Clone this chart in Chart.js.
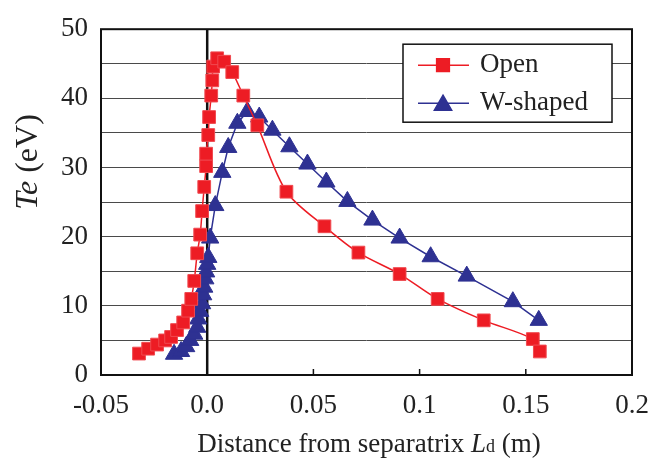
<!DOCTYPE html>
<html>
<head>
<meta charset="utf-8">
<script src="https://cdn.jsdelivr.net/npm/chart.js@4.4.1/dist/chart.umd.min.js"></script>
<style>
  html, body { margin: 0; padding: 0; background: #fff; }
  #wrap { width: 667px; height: 463px; }
</style>
</head>
<body>
<div id="wrap"><canvas id="chart" width="667" height="463"></canvas></div>
<script>
// Te profile vs distance from separatrix
const openX = [-0.0321, -0.0278, -0.0236, -0.0198, -0.0170, -0.0142, -0.0113, -0.0090, -0.0075, -0.0061,
               -0.0047, -0.0033, -0.0024, -0.0014, -0.0005, -0.0005, 0.0005, 0.0009, 0.0019, 0.0024,
               0.0028, 0.0047, 0.0080, 0.0118, 0.0170, 0.0236, 0.0373, 0.0552, 0.0712, 0.0906,
               0.1085, 0.1302, 0.1533, 0.1566];
const openY = [3.1, 3.8, 4.4, 5.0, 5.5, 6.5, 7.6, 9.3, 11.0, 13.6,
               17.6, 20.3, 23.7, 27.2, 30.2, 32.0, 34.7, 37.3, 40.4, 42.6,
               44.6, 45.8, 45.3, 43.8, 40.4, 36.1, 26.5, 21.5, 17.7, 14.6,
               11.0, 7.9, 5.2, 3.4];

const wX = [-0.0156, -0.0123, -0.0099, -0.0080, -0.0061, -0.0047, -0.0042, -0.0033, -0.0024, -0.0019,
            -0.0014, -0.0009, -0.0005, 0.0000, 0.0005, 0.0014, 0.0038, 0.0071, 0.0099, 0.0142,
            0.0189, 0.0245, 0.0307, 0.0387, 0.0472, 0.0561, 0.0660, 0.0778, 0.0906, 0.1052,
            0.1222, 0.1439, 0.1561];
const wY = [3.0, 3.4, 4.1, 5.0, 5.9, 6.9, 8.1, 9.2, 10.3, 11.6,
            12.7, 13.9, 14.9, 16.0, 17.0, 19.8, 24.5, 29.3, 32.9, 36.4,
            38.1, 37.3, 35.4, 33.0, 30.5, 27.9, 25.1, 22.4, 19.8, 17.1,
            14.3, 10.6, 7.9];

const xTicks = [-0.05, 0.0, 0.05, 0.1, 0.15, 0.2];
const xTickLabels = ['-0.05', '0.0', '0.05', '0.1', '0.15', '0.2'];
const yTicks = [0, 10, 20, 30, 40, 50];

const seriesNames = ['Open', 'W-shaped'];

const RED = '#ed1c24';
const BLUE = '#2e3192';
const FONT = "'Liberation Serif', 'Times New Roman', serif";

function toPoints(xs, ys) {
    return xs.map((x, i) => ({ x: x, y: ys[i] }));
}

// frame, zero line and inward ticks on the x axis
const framePlugin = {
    id: 'frame',
    beforeDatasetsDraw(chart) {
        const { ctx, chartArea: a, scales } = chart;
        ctx.save();
        ctx.strokeStyle = '#111';
        // thick line at x = 0
        const x0 = scales.x.getPixelForValue(0);
        ctx.lineWidth = 2.5;
        ctx.beginPath();
        ctx.moveTo(x0, a.top);
        ctx.lineTo(x0, a.bottom);
        ctx.stroke();
        // small ticks pointing into the plot
        ctx.lineWidth = 1.5;
        xTicks.forEach(v => {
            const px = scales.x.getPixelForValue(v);
            ctx.beginPath();
            ctx.moveTo(px, a.bottom);
            ctx.lineTo(px, a.bottom - 6);
            ctx.stroke();
        });
        ctx.lineWidth = 2;
        ctx.strokeRect(a.left, a.top, a.right - a.left, a.bottom - a.top);
        ctx.restore();
    }
};

// legend box and axis titles
const labelsPlugin = {
    id: 'labels',
    afterDraw(chart) {
        const { ctx, chartArea: a } = chart;
        const H = Chart.helpers;
        ctx.save();

        // legend
        const lx = a.left + 302, ly = a.top + 15, lw = 209, lh = 78;
        ctx.fillStyle = '#fff';
        ctx.fillRect(lx, ly, lw, lh);
        ctx.strokeStyle = '#111';
        ctx.lineWidth = 1.5;
        ctx.strokeRect(lx, ly, lw, lh);

        const entries = [
            { name: seriesNames[0], color: RED, style: 'rect', radius: 9 },
            { name: seriesNames[1], color: BLUE, style: 'triangle', radius: 10 }
        ];
        entries.forEach((e, i) => {
            const cy = ly + 21 + i * 38;
            ctx.strokeStyle = e.color;
            ctx.lineWidth = 1.5;
            ctx.beginPath();
            ctx.moveTo(lx + 15, cy);
            ctx.lineTo(lx + 66, cy);
            ctx.stroke();
            ctx.fillStyle = e.color;
            H.drawPoint(ctx, { pointStyle: e.style, radius: e.radius, borderWidth: 1, rotation: 0 }, lx + 40, cy + (e.style === 'triangle' ? 2 : 0));
            ctx.fillStyle = '#222';
            ctx.font = '27px ' + FONT;
            ctx.textAlign = 'left';
            ctx.textBaseline = 'middle';
            ctx.fillText(e.name, lx + 77, cy);
        });

        // x title: Distance from separatrix Ld (m)
        ctx.fillStyle = '#222';
        ctx.textBaseline = 'alphabetic';
        ctx.textAlign = 'left';
        const base = 452;
        const parts = [
            { t: 'Distance from separatrix ', f: '27px ' + FONT },
            { t: 'L', f: 'italic 27px ' + FONT },
            { t: 'd', f: '18px ' + FONT },
            { t: ' (m)', f: '27px ' + FONT }
        ];
        let total = 0;
        parts.forEach(p => { ctx.font = p.f; total += ctx.measureText(p.t).width; });
        let cx = 369 - total / 2;
        parts.forEach(p => {
            ctx.font = p.f;
            ctx.fillText(p.t, cx, base);
            cx += ctx.measureText(p.t).width;
        });

        // y title: Te (eV), rotated
        ctx.translate(37, 162);
        ctx.rotate(-Math.PI / 2);
        const yparts = [
            { t: 'Te', f: 'italic 32px ' + FONT },
            { t: ' (eV)', f: '32px ' + FONT }
        ];
        total = 0;
        yparts.forEach(p => { ctx.font = p.f; total += ctx.measureText(p.t).width; });
        cx = -total / 2;
        yparts.forEach(p => {
            ctx.font = p.f;
            ctx.fillText(p.t, cx, 0);
            cx += ctx.measureText(p.t).width;
        });
        ctx.restore();
    }
};

const chart = new Chart(document.getElementById('chart'), {
    type: 'scatter',
    data: {
        datasets: [
            {
                label: seriesNames[0],
                data: toPoints(openX, openY),
                showLine: true,
                borderColor: RED,
                backgroundColor: RED,
                borderWidth: 1.5,
                tension: 0.3,
                pointStyle: 'rect',
                pointRadius: 9,
                pointHoverRadius: 9,
                pointBorderColor: '#f04a50',
                pointBorderWidth: 1
            },
            {
                label: seriesNames[1],
                data: toPoints(wX, wY),
                showLine: true,
                borderColor: BLUE,
                backgroundColor: BLUE,
                borderWidth: 1.5,
                tension: 0,
                pointStyle: 'triangle',
                pointRadius: 10,
                pointHoverRadius: 10,
                pointBorderColor: BLUE,
                pointBorderWidth: 1
            }
        ]
    },
    options: {
        responsive: false,
        animation: false,
        layout: { padding: { top: 22, right: 35, left: 0, bottom: 0 } },
        plugins: {
            legend: { display: false },
            tooltip: { enabled: false }
        },
        scales: {
            x: {
                type: 'linear',
                min: -0.05,
                max: 0.2,
                afterBuildTicks: s => { s.ticks = xTicks.map(v => ({ value: v })); },
                afterFit: s => { s.height = 88; },
                grid: { display: false, drawTicks: false },
                border: { display: false },
                ticks: {
                    padding: 15,
                    autoSkip: false,
                    color: '#222',
                    font: { family: FONT, size: 27 },
                    maxRotation: 0,
                    callback: v => {
                        const i = xTicks.findIndex(t => Math.abs(t - v) < 1e-9);
                        return i >= 0 ? xTickLabels[i] : '';
                    }
                }
            },
            y: {
                min: 0,
                max: 50,
                afterFit: s => { s.width = 101; },
                grid: { color: '#4a4a4a', lineWidth: 1, drawTicks: false },
                border: { display: false },
                ticks: {
                    stepSize: 5,
                    autoSkip: false,
                    padding: 13,
                    color: '#222',
                    font: { family: FONT, size: 27 },
                    callback: v => (yTicks.includes(v) ? String(v) : '')
                }
            }
        }
    },
    plugins: [framePlugin, labelsPlugin]
});
</script>
</body>
</html>
